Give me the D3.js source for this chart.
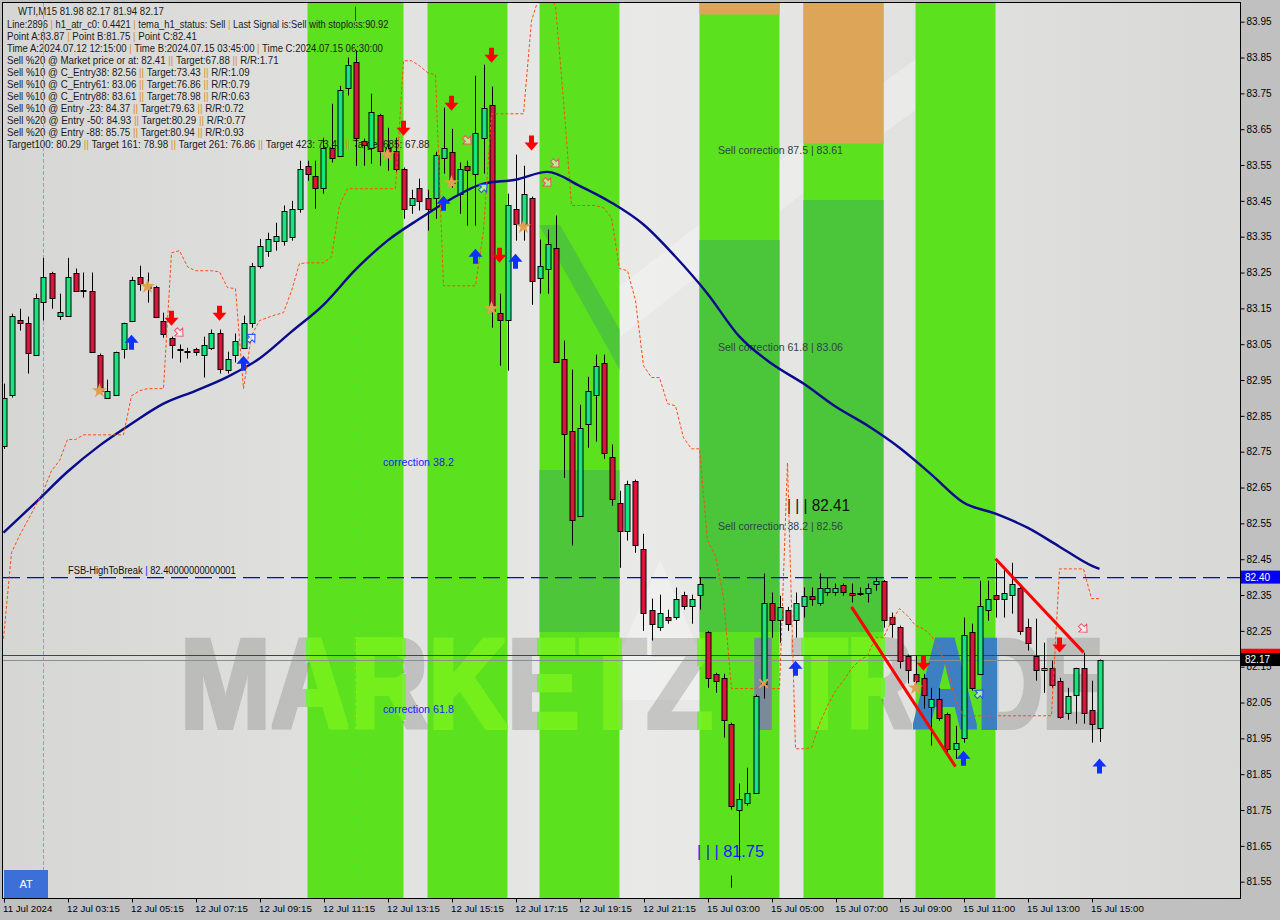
<!DOCTYPE html>
<html><head><meta charset="utf-8">
<script src="https://cdn.jsdelivr.net/npm/d3@7/dist/d3.min.js"></script>
<style>html,body{margin:0;padding:0;background:#c0c0c0;}svg{display:block;}</style>
</head><body>
<svg id="c" width="1280" height="920"></svg>
<script>
// ---------------- DATA ----------------
const open = [
82.767,82.909,83.118,83.110,83.021,83.169,83.250,83.130,83.130,83.250,
83.199,83.199,83.021,82.901,82.909,83.037,83.116,83.238,83.213,83.210,
83.116,83.068,83.037,83.032,83.037,83.021,83.037,83.080,82.979,83.021,
83.040,83.110,83.269,83.311,83.339,83.339,83.350,83.428,83.548,83.520,
83.487,83.598,83.576,83.766,83.838,83.618,83.598,83.690,83.598,83.590,
83.540,83.439,83.487,83.459,83.459,83.570,83.587,83.470,83.548,83.526,
83.626,83.718,83.138,83.118,83.428,83.386,83.459,83.236,83.261,83.319,
83.010,82.809,82.571,82.828,82.909,82.998,82.736,82.608,82.530,82.669,
82.479,82.309,82.262,82.290,82.290,82.351,82.320,82.351,82.248,82.130,
82.119,81.991,81.751,81.771,81.798,82.103,82.329,82.281,82.309,82.281,
82.320,82.348,82.329,82.359,82.359,82.379,82.357,82.357,82.357,82.382,
82.390,82.290,82.262,82.181,82.130,82.119,82.038,82.061,82.019,81.921,
81.952,82.248,82.130,82.309,82.351,82.340,82.351,82.371,82.262,82.181,
82.142,82.147,82.111,82.022,82.072,82.147,82.030,81.980];
const high = [
82.940,83.135,83.149,83.127,83.191,83.291,83.252,83.191,83.291,83.261,
83.250,83.250,83.024,82.951,83.029,83.110,83.238,83.269,83.250,83.213,
83.138,83.071,83.049,83.040,83.040,83.071,83.091,83.091,83.029,83.080,
83.130,83.277,83.344,83.361,83.389,83.437,83.450,83.562,83.562,83.562,
83.626,83.721,83.771,83.850,83.870,83.624,83.749,83.693,83.654,83.626,
83.543,83.481,83.512,83.481,83.587,83.710,83.651,83.557,83.562,83.799,
83.830,83.769,83.191,83.470,83.579,83.548,83.462,83.342,83.370,83.409,
83.060,82.979,82.881,82.959,83.021,83.021,82.770,82.641,82.669,82.672,
82.521,82.340,82.351,82.309,82.371,82.359,82.351,82.398,82.250,82.133,
82.130,81.994,81.824,81.868,82.072,82.410,82.357,82.348,82.317,82.357,
82.371,82.371,82.410,82.398,82.382,82.382,82.382,82.371,82.382,82.398,
82.392,82.301,82.265,82.184,82.181,82.130,82.091,82.091,82.022,81.985,
82.287,82.270,82.390,82.390,82.440,82.426,82.440,82.374,82.284,82.284,
82.217,82.167,82.119,82.091,82.147,82.189,82.111,82.170];
const low = [
82.758,82.901,83.088,82.968,83.018,83.116,83.149,83.118,83.130,83.197,
83.180,83.026,82.912,82.898,82.906,83.010,83.113,83.199,83.166,83.127,
83.068,83.010,82.999,83.010,83.018,82.957,83.034,82.968,82.968,82.999,
83.037,83.096,83.261,83.294,83.311,83.325,83.339,83.417,83.506,83.428,
83.470,83.557,83.573,83.744,83.548,83.548,83.554,83.548,83.534,83.529,
83.400,83.414,83.423,83.367,83.400,83.526,83.487,83.414,83.381,83.381,
83.526,83.096,82.990,82.976,83.339,83.339,83.160,83.191,83.191,82.998,
82.677,82.488,82.568,82.761,82.778,82.730,82.599,82.426,82.502,82.468,
82.250,82.223,82.250,82.270,82.281,82.309,82.270,82.309,82.091,82.077,
81.952,81.751,81.609,81.762,81.795,82.061,82.231,82.217,82.250,82.231,
82.287,82.320,82.320,82.348,82.348,82.348,82.329,82.348,82.329,82.362,
82.259,82.231,82.145,82.103,82.091,82.033,81.930,81.999,81.907,81.893,
81.938,82.083,82.128,82.278,82.287,82.287,82.298,82.239,82.195,82.111,
82.077,82.091,82.005,82.002,81.991,81.991,81.938,81.940];
const close = [
82.901,83.130,83.110,83.026,83.180,83.238,83.180,83.141,83.238,83.199,
83.200,83.029,82.920,82.920,83.029,83.110,83.230,83.219,83.208,83.127,
83.080,83.049,83.037,83.032,83.029,83.049,83.080,82.979,83.010,83.060,
83.110,83.269,83.325,83.344,83.353,83.423,83.428,83.540,83.526,83.487,
83.598,83.570,83.760,83.830,83.626,83.607,83.699,83.590,83.582,83.540,
83.428,83.459,83.450,83.428,83.579,83.598,83.501,83.540,83.538,83.640,
83.710,83.144,83.118,83.439,83.386,83.470,83.227,83.269,83.330,83.000,
82.800,82.560,82.817,82.920,82.990,82.747,82.619,82.530,82.661,82.490,
82.301,82.270,82.301,82.281,82.340,82.320,82.340,82.382,82.119,82.111,
82.002,81.762,81.782,81.798,82.069,82.329,82.281,82.317,82.270,82.329,
82.348,82.340,82.371,82.371,82.371,82.359,82.351,82.357,82.371,82.390,
82.281,82.270,82.167,82.142,82.111,82.072,82.061,82.008,81.921,81.938,
82.239,82.091,82.320,82.340,82.340,82.357,82.382,82.250,82.217,82.142,
82.147,82.100,82.010,82.069,82.147,82.022,81.991,82.170];

// moving average (read every 4 bars)
const maIdx = [0,4,8,12,16,20,24,28,32,36,40,44,48,52,56,60,64,68,72,76,80,84,88,92,96,100,104,108,112,116,120,124,128,132,136,137];
const maVal = [82.524,82.608,82.694,82.767,82.828,82.884,82.920,82.959,83.010,83.085,83.160,83.258,83.339,83.400,83.456,83.498,83.509,83.531,83.492,83.445,83.384,83.294,83.191,83.071,82.996,82.940,82.876,82.823,82.761,82.686,82.608,82.577,82.538,82.485,82.432,82.423];

// dashed stop envelope, one value per bar
const envVal = [
82.228,82.468,82.516,82.557,82.599,82.641,82.697,82.725,82.784,82.784,
82.797,82.797,82.797,82.797,82.797,82.797,82.906,82.920,82.926,82.926,
82.926,83.305,83.311,83.266,83.255,83.255,83.255,83.252,83.208,83.205,
82.926,83.074,83.116,83.124,83.132,83.138,83.199,83.275,83.277,83.277,
83.277,83.294,83.437,83.484,83.484,83.484,83.484,83.484,83.484,83.484,
83.841,83.841,83.827,83.808,83.802,83.213,83.213,83.213,83.213,83.213,
83.367,83.693,83.693,83.693,83.693,83.693,83.953,84.023,84.023,83.995,
83.730,83.437,83.437,83.437,83.437,83.431,83.403,83.261,83.255,83.172,
82.990,82.957,82.957,82.884,82.878,82.789,82.758,82.758,82.502,82.460,
82.343,82.089,82.089,82.089,82.089,82.103,82.089,82.089,82.719,81.921,
81.921,81.924,81.991,82.041,82.083,82.111,82.145,82.167,82.181,82.231,
82.231,82.278,82.312,82.292,82.265,82.256,82.236,82.195,82.145,82.055,
82.013,82.013,82.013,82.013,82.013,82.013,82.013,82.013,82.013,82.013,
82.013,82.013,82.423,82.423,82.423,82.423,82.340,82.340];

// signal markers (bar index, price)
const sellArrowIdx = [21,27,50,56,61,62,66,115,132];
const sellArrowVal = [83.121,83.135,83.651,83.721,83.855,83.297,83.610,82.158,82.209];
const buyArrowIdx = [16,30,55,59,64,99,120,137];
const buyArrowVal = [83.057,82.998,83.445,83.297,83.283,82.147,81.896,81.874];
const sellHollowIdx = [22,58,68,69,135];
const sellHollowVal = [83.082,83.618,83.501,83.554,82.256];
const buyHollowIdx = [31,60,122];
const buyHollowVal = [83.068,83.487,82.075];
const starIdx = [12,18,48,56,61,65,114];
const starVal = [82.920,83.211,83.579,83.501,83.149,83.378,82.091];
const crossIdx = [95];
const crossVal = [82.103];

// green session bands and orange zones (bar index ranges)
const bandStart = [38,53,67,87,100,114];
const bandEnd   = [50,63,77,97,110,124];
const zoneStart = [87,100];
const zoneEnd   = [97,110];
const zoneLow   = [83.97,83.61];

// trend lines: [start index, end index], [start price, end price]
const trendIdxA = [106,119], trendValA = [82.317,81.871];
const trendIdxB = [124,135], trendValB = [82.451,82.190];

// levels
const highToBreak = 82.40;
const askPrice = 82.182;
const bidPrice = 82.17;
const pinkLineIdx = [5,44];

// axis labels
const xTickIdx = [0,8,16,24,32,40,48,56,64,72,80,88,96,104,112,120,128,136];
const xTickLabels = ["11 Jul 2024","12 Jul 03:15","12 Jul 05:15","12 Jul 07:15","12 Jul 09:15","12 Jul 11:15","12 Jul 13:15","12 Jul 15:15","12 Jul 17:15","12 Jul 19:15","12 Jul 21:15","15 Jul 03:00","15 Jul 05:00","15 Jul 07:00","15 Jul 09:00","15 Jul 11:00","15 Jul 13:00","15 Jul 15:00"];
const yTickLabels = ["83.95","83.85","83.75","83.65","83.55","83.45","83.35","83.25","83.15","83.05","82.95","82.85","82.75","82.65","82.55","82.45","82.35","82.25","82.15","82.05","81.95","81.85","81.75","81.65","81.55"];

const infoLines = [
"WTI,M15  81.98 82.17 81.94 82.17",
"Line:2896 | h1_atr_c0: 0.4421 | tema_h1_status: Sell | Last Signal is:Sell with stoploss:90.92",
"Point A:83.87 | Point B:81.75 | Point C:82.41",
"Time A:2024.07.12 12:15:00 | Time B:2024.07.15 03:45:00 | Time C:2024.07.15 06:30:00",
"Sell %20 @ Market price or at: 82.41 || Target:67.88 || R/R:1.71",
"Sell %10 @ C_Entry38: 82.56 || Target:73.43 || R/R:1.09",
"Sell %10 @ C_Entry61: 83.06 || Target:76.86 || R/R:0.79",
"Sell %10 @ C_Entry88: 83.61 || Target:78.98 || R/R:0.63",
"Sell %10 @ Entry -23: 84.37 || Target:79.63 || R/R:0.72",
"Sell %20 @ Entry -50: 84.93 || Target:80.29 || R/R:0.77",
"Sell %20 @ Entry -88: 85.75 || Target:80.94 || R/R:0.93",
"Target100: 80.29 || Target 161: 78.98 || Target 261: 76.86 || Target 423: 73.43 || Target 685: 67.88"];
const infoWidths = [146,382,190,376,272,243,243,243,237,239,237,423];

// ---------------- LAYOUT ----------------
const PL=3, PR=1240, PT=3, PB=898;
const FONT = "Liberation Sans, Arial, sans-serif";
const x = d3.scaleLinear().domain([0,137]).range([3.5,1099.5]);
const y = d3.scaleLinear().domain([81.55,83.95]).range([881.7,21.7]);
const svg = d3.select("#c");
const defs = svg.append("defs");

const bg = defs.append("linearGradient").attr("id","bg").attr("x1",0).attr("x2",1).attr("y1",0).attr("y2",0);
bg.append("stop").attr("offset",0).attr("stop-color","#d6d6d4");
bg.append("stop").attr("offset",0.52).attr("stop-color","#e9e9e8");
bg.append("stop").attr("offset",1).attr("stop-color","#d8d8d6");

defs.append("clipPath").attr("id","plot").append("rect").attr("x",PL).attr("y",PT).attr("width",PR-PL).attr("height",PB-PT);
const bandsClip = defs.append("clipPath").attr("id","bandsLime");
bandStart.forEach((s,k)=>{
  if(k<5) bandsClip.append("rect").attr("x",x(s)).attr("y",PT).attr("width",x(bandEnd[k])-x(s)).attr("height",PB-PT);
});

// watermark gradient builder: grey outside the bands, lime inside, blue in the last band
function makeWmGradient(id, transform){
  const wg = defs.append("linearGradient").attr("id",id).attr("gradientUnits","userSpaceOnUse")
    .attr("x1",0).attr("x2",1280).attr("y1",0).attr("y2",0).attr("gradientTransform",transform);
  const wstop=(px,color,op)=>wg.append("stop").attr("offset",px/1280).attr("stop-color",color).attr("stop-opacity",op);
  let last = 0;
  bandStart.forEach((s,k)=>{
    const a=x(s), b=x(bandEnd[k]);
    wstop(last,"#666",0.28); wstop(a,"#666",0.28);
    const c = k===5 ? "#3e80c2" : "#74ef1c";
    wstop(a,c,1); wstop(b,c,1);
    last = b;
  });
  wstop(last,"#666",0.28); wstop(1280,"#666",0.28);
}
const dil = defs.append("filter").attr("id","thick").attr("filterUnits","userSpaceOnUse")
  .attr("x",0).attr("y",0).attr("width",1280).attr("height",920);
dil.append("feMorphology").attr("operator","dilate").attr("radius","2.2");

svg.append("rect").attr("width",1280).attr("height",920).attr("fill","#c0c0c0");
svg.append("rect").attr("x",PL).attr("y",PT).attr("width",PR-PL).attr("height",PB-PT).attr("fill","url(#bg)");

const plot = svg.append("g").attr("clip-path","url(#plot)");

// faint logo swoosh on background
plot.append("path").attr("d","M560,330 C700,230 820,120 960,30 L990,60 C850,150 720,260 590,360 Z").attr("fill","rgba(255,255,255,0.28)");
plot.append("path").attr("d","M600,700 L660,560 L720,700 Z").attr("fill","rgba(255,255,255,0.3)");

// bands
plot.selectAll(".band").data(bandStart).join("rect")
  .attr("x",(d)=>x(d)).attr("y",PT)
  .attr("width",(d,k)=>x(bandEnd[k])-x(d)).attr("height",PB-PT)
  .attr("fill","#5ce11e");
// darker logo parts inside bands
const darkG = plot.append("g").attr("clip-path","url(#bandsLime)");
darkG.append("path").attr("d","M530,470 L620,470 L620,632 L530,632 Z").attr("fill","#4ec63a");
darkG.append("path").attr("d","M539,225 L560,225 L620,330 L620,370 Z").attr("fill","#4ec63a");
darkG.append("path").attr("d","M690,240 L790,240 L790,632 L690,632 Z").attr("fill","#4bc53a");
darkG.append("path").attr("d","M800,200 L890,200 L890,632 L800,632 Z").attr("fill","#4bc53a");
// orange zones
plot.selectAll(".zone").data(zoneStart).join("rect")
  .attr("x",(d)=>x(d)).attr("y",PT)
  .attr("width",(d,k)=>x(zoneEnd[k])-x(d))
  .attr("height",(d,k)=>y(zoneLow[k])-PT)
  .attr("fill","#dca557");

// fit a text element horizontally to a target width using a scale transform; returns scale
function fitText(sel, x0, y0, w){
  const n = sel.node();
  const natural = n.getComputedTextLength();
  const s = natural > 0 ? w/natural : 1;
  sel.attr("x",0).attr("y",0).attr("transform",`translate(${x0},${y0}) scale(${s},1)`);
  return s;
}

// watermark text
const wm = [{t:"MARKETZ",x:180,w:533,g:true},{t:"I",x:750,w:26,g:false},{t:"TRADE",x:792,w:311,g:true}];
const wmG = plot.append("g").attr("filter","url(#thick)");
wm.forEach((o,k)=>{
  const t = wmG.append("text").attr("font-family",FONT).attr("font-weight","bold").attr("font-size",128).text(o.t);
  const s = fitText(t, o.x, 728, o.w);
  if(o.g){
    makeWmGradient("wm"+k, `scale(${1/s},1) translate(${-o.x},-728)`);
    t.attr("fill",`url(#wm${k})`);
  } else t.attr("fill","#7a8a9a");
});

// info text
const info = plot.append("g").attr("font-family",FONT).attr("font-size",11);
infoLines.forEach((ln,k)=>{
  const t = info.append("text").attr("fill","#1a1a1a");
  ln.split(/(\|+)/).forEach(part=>{
    if(!part) return;
    t.append("tspan").attr("fill",part[0]==="|"?"#d8902a":"#1a1a1a").text(part);
  });
  fitText(t, k===0?18:7, k===0?14.5:27.5+(k-1)*12, infoWidths[k]);
});

// vertical pink lines
plot.selectAll(".pink").data(pinkLineIdx).join("line")
  .attr("x1",d=>x(d)).attr("x2",d=>x(d)).attr("y1",PT).attr("y2",PB)
  .attr("stroke","#ff6fae").attr("stroke-width",1).attr("stroke-dasharray","4,2");
plot.append("line").attr("x1",x(44)).attr("x2",x(44)).attr("y1",y(83.992)).attr("y2",y(83.952)).attr("stroke","#1030ff").attr("stroke-width",1);

// levels
plot.append("line").attr("x1",PL).attr("x2",PR).attr("y1",y(highToBreak)+0.5).attr("y2",y(highToBreak)+0.5)
  .attr("stroke","#0000ff").attr("stroke-width",1.2).attr("stroke-dasharray","17,7");
plot.append("line").attr("x1",PL).attr("x2",PR).attr("y1",Math.round(y(askPrice))+0.5).attr("y2",Math.round(y(askPrice))+0.5).attr("stroke","#e00000").attr("stroke-width",1);
plot.append("line").attr("x1",PL).attr("x2",PR).attr("y1",Math.round(y(bidPrice))+0.5).attr("y2",Math.round(y(bidPrice))+0.5).attr("stroke","#8a8f96").attr("stroke-width",1);

// annotation labels
const lab = plot.append("g").attr("font-family",FONT);
function label(txt,xx,yy,size,fill,w){
  const t = lab.append("text").attr("font-size",size).attr("fill",fill).text(txt);
  fitText(t, xx, yy, w);
}
label("correction 38.2",383,466,10.5,"#1a1aff",71);
label("correction 61.8",383,713,10.5,"#1a1aff",71);
label("Sell correction 87.5 | 83.61",718,154,10.5,"#2d4646",125);
label("Sell correction 61.8 | 83.06",718,351,10.5,"#2d4646",125);
label("Sell correction 38.2 | 82.56",718,530,10.5,"#2d4646",125);
label("| | | 82.41",787,511,16,"#111111",63);
label("| | | 81.75",697,857,16,"#1a1aff",67);
const fsb = lab.append("text").attr("font-size",10).attr("fill","#111");
fsb.append("tspan").text("FSB-HighToBreak ");
fsb.append("tspan").attr("fill","#1a1aff").text("|");
fsb.append("tspan").text(" 82.40000000000001");
fitText(fsb, 68, 574, 168);

// candles
const cg = plot.append("g");
const idx = d3.range(open.length);
cg.selectAll(".wick").data(idx).join("line")
  .attr("x1",i=>Math.round(x(i))+0.5).attr("x2",i=>Math.round(x(i))+0.5)
  .attr("y1",i=>y(high[i])).attr("y2",i=>y(low[i])).attr("stroke","#000").attr("stroke-width",1);
cg.append("line").attr("x1",Math.round(x(91))+0.5).attr("x2",Math.round(x(91))+0.5)
  .attr("y1",y(81.567)).attr("y2",y(81.533)).attr("stroke","#000");
cg.selectAll(".body").data(idx).join("rect")
  .attr("x",i=>Math.round(x(i))-2).attr("width",5)
  .attr("y",i=>Math.round(y(Math.max(open[i],close[i])))+0.5)
  .attr("height",i=>Math.max(1,Math.round(Math.abs(y(open[i])-y(close[i])))))
  .attr("fill",i=>close[i]>=open[i]?"#14e77e":"#dc143c")
  .attr("stroke","#000").attr("stroke-width",1);

// moving average
plot.append("path").datum(maIdx.map((d,k)=>[d,maVal[k]]))
  .attr("d",d3.line().x(d=>x(d[0])).y(d=>y(d[1])).curve(d3.curveMonotoneX))
  .attr("fill","none").attr("stroke","#0a0a8c").attr("stroke-width",2.4);

// envelope
plot.append("path").datum(envVal.map((v,i)=>[i,v]))
  .attr("d",d3.line().x(d=>x(d[0])).y(d=>y(d[1])))
  .attr("fill","none").attr("stroke","#ff4a10").attr("stroke-width",1).attr("stroke-dasharray","3,2");

// trend lines
[[trendIdxA,trendValA],[trendIdxB,trendValB]].forEach(([ii,vv])=>{
  plot.append("line").attr("x1",x(ii[0])).attr("y1",y(vv[0])).attr("x2",x(ii[1])).attr("y2",y(vv[1]))
    .attr("stroke","#ff0000").attr("stroke-width",3);
});

// markers
const mk = plot.append("g");
sellArrowIdx.forEach((d,k)=>{
  const cx=x(d), cy=y(sellArrowVal[k]);
  mk.append("path").attr("d",`M${cx-2.5},${cy-8}h5v7h4.5l-7,8l-7,-8h4.5z`).attr("fill","#ff0000");
});
buyArrowIdx.forEach((d,k)=>{
  const cx=x(d), cy=y(buyArrowVal[k]);
  mk.append("path").attr("d",`M${cx-2.5},${cy+8}h5v-7h4.5l-7,-8l-7,8h4.5z`).attr("fill","#1030ff");
});
const hollow = "M-5,-2h4v-3.5l6,5.5l-6,5.5v-3.5h-4z";
sellHollowIdx.forEach((d,k)=>{
  mk.append("path").attr("d",hollow).attr("transform",`translate(${x(d)},${y(sellHollowVal[k])}) rotate(45)`)
    .attr("fill","rgba(255,255,255,0.5)").attr("stroke","#f0506a").attr("stroke-width",1);
});
buyHollowIdx.forEach((d,k)=>{
  mk.append("path").attr("d",hollow).attr("transform",`translate(${x(d)},${y(buyHollowVal[k])}) rotate(-45)`)
    .attr("fill","rgba(255,255,255,0.5)").attr("stroke","#2050ff").attr("stroke-width",1);
});
starIdx.forEach((d,k)=>{
  mk.append("path").attr("d",d3.symbol(d3.symbolStar,70)()).attr("transform",`translate(${x(d)},${y(starVal[k])})`).attr("fill","#e0a050");
});
crossIdx.forEach((d,k)=>{
  mk.append("path").attr("d",d3.symbol(d3.symbolX,50)()).attr("transform",`translate(${x(d)},${y(crossVal[k])})`)
    .attr("fill","none").attr("stroke","#e0a050").attr("stroke-width",2);
});

// frame
svg.append("rect").attr("x",PL-0.5).attr("y",PT-0.5).attr("width",PR-PL+1).attr("height",PB-PT+1)
  .attr("fill","none").attr("stroke","#000").attr("stroke-width",1);

// axes
const yAxis = svg.append("g").attr("transform",`translate(${PR+0.5},0)`)
  .call(d3.axisRight(y).tickValues(yTickLabels.map(Number)).tickSize(4).tickFormat((d,k)=>yTickLabels[k]));
yAxis.select(".domain").remove();
yAxis.selectAll("text").attr("font-family",FONT).attr("font-size",10).attr("fill","#000").attr("x",6);
yAxis.selectAll("line").attr("stroke","#000");

const xAxis = svg.append("g").attr("transform",`translate(0,${PB+0.5})`)
  .call(d3.axisBottom(x).tickValues(xTickIdx).tickSize(4).tickFormat((d,k)=>xTickLabels[k]));
xAxis.select(".domain").remove();
xAxis.selectAll(".tick line").attr("transform","translate(0.5,0)").attr("stroke","#000");
xAxis.selectAll("text").attr("font-family",FONT).attr("font-size",9.7).attr("fill","#000")
  .attr("text-anchor","start").attr("x",-1).attr("y",7);

// price tags (ask tag sits behind the bid tag)
function tag(price, fill, txt){
  const yy = y(price);
  svg.append("rect").attr("x",PR+1).attr("y",yy-6.5).attr("width",40).attr("height",13).attr("fill",fill);
  if(txt) svg.append("text").attr("x",PR+5).attr("y",yy+3.5).attr("font-family",FONT)
    .attr("font-size",10).attr("fill","#fff").text(txt);
}
tag(highToBreak,"#0000ff","82.40");
tag(askPrice,"#ff0000",null);
tag(bidPrice,"#000000","82.17");

// AT button
svg.append("rect").attr("x",4).attr("y",870).attr("width",44).attr("height",28).attr("fill","#3c6fd8");
svg.append("text").attr("x",26).attr("y",888).attr("text-anchor","middle").attr("font-family",FONT)
  .attr("font-size",11).attr("fill","#fff").text("AT");
</script>
</body></html>
